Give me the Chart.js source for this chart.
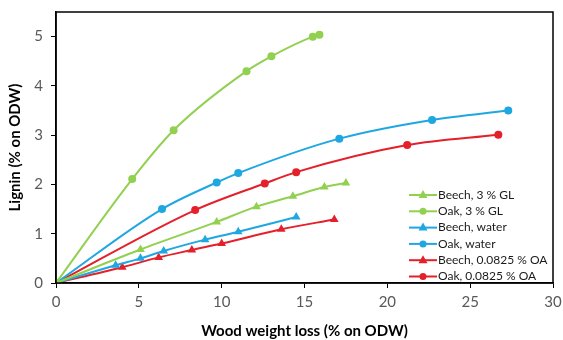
<!DOCTYPE html>
<html>
<head>
<meta charset="utf-8">
<script src="https://cdn.jsdelivr.net/npm/chart.js@4"></script>
<style>
  html, body { margin: 0; padding: 0; background: #fff; }
  #wrap { width: 563px; height: 340px; position: relative; }
</style>
</head>
<body>
<div id="wrap"><canvas id="chart"></canvas></div>
<script>
// values (x = wood weight loss, y = lignin, both % on ODW)
const beechGlX = [0, 5.1, 9.7, 12.1, 14.3, 16.2, 17.5];
const beechGlY = [0, 0.68, 1.24, 1.55, 1.76, 1.95, 2.03];
const oakGlX = [0, 4.6, 7.1, 11.5, 13.0, 15.5, 15.9];
const oakGlY = [0, 2.11, 3.10, 4.30, 4.60, 5.00, 5.04];
const beechWaterX = [0, 3.6, 5.1, 6.5, 9.0, 11.0, 14.5];
const beechWaterY = [0, 0.36, 0.50, 0.65, 0.88, 1.04, 1.34];
const oakWaterX = [0, 6.4, 9.7, 11.0, 17.1, 22.7, 27.3];
const oakWaterY = [0, 1.50, 2.04, 2.23, 2.93, 3.31, 3.50];
const beechOaX = [0, 4.0, 6.2, 8.2, 10.0, 13.6, 16.8];
const beechOaY = [0, 0.32, 0.52, 0.67, 0.80, 1.09, 1.29];
const oakOaX = [0, 8.4, 12.6, 14.5, 21.2, 26.7];
const oakOaY = [0, 1.48, 2.02, 2.25, 2.80, 3.01];

const xTicks = [0, 5, 10, 15, 20, 25, 30];
const yTicks = [0, 1, 2, 3, 4, 5];

const GREEN = '#92d050';
const BLUE = '#1ea7e1';
const RED = '#e4202a';

function pts(xs, ys) {
  return xs.map((x, i) => ({ x, y: ys[i] }));
}

function series(label, xs, ys, color, shape) {
  return {
    label,
    data: pts(xs, ys),
    borderColor: color,
    backgroundColor: color,
    borderWidth: 2,
    pointStyle: shape,
    pointRadius: shape === 'triangle' ? 5 : 4,
    pointBorderWidth: 0,
    showLine: true,
    tension: 0.4,
    cubicInterpolationMode: 'monotone'
  };
}

const datasets = [
  series('Beech, 3 % GL', beechGlX, beechGlY, GREEN, 'triangle'),
  series('Oak, 3 % GL', oakGlX, oakGlY, GREEN, 'circle'),
  series('Beech, water', beechWaterX, beechWaterY, BLUE, 'triangle'),
  series('Oak, water', oakWaterX, oakWaterY, BLUE, 'circle'),
  series('Beech, 0.0825 % OA', beechOaX, beechOaY, RED, 'triangle'),
  series('Oak, 0.0825 % OA', oakOaX, oakOaY, RED, 'circle')
];

// frame round the plot area plus a legend inside it, lower right
const framePlugin = {
  id: 'frame',
  afterDatasetsDraw(chart) {
    const { ctx, chartArea: a } = chart;
    ctx.save();
    ctx.strokeStyle = '#000';
    ctx.lineWidth = 1.5;
    ctx.strokeRect(a.left, a.top, a.right - a.left, a.bottom - a.top);

    const x0 = 409, x1 = 437, rowH = 16.3;
    let y = 195;
    ctx.font = '12px Lato, sans-serif';
    ctx.textBaseline = 'middle';
    chart.data.datasets.forEach(ds => {
      ctx.strokeStyle = ds.borderColor;
      ctx.fillStyle = ds.borderColor;
      ctx.lineWidth = 2;
      ctx.beginPath();
      ctx.moveTo(x0, y);
      ctx.lineTo(x1, y);
      ctx.stroke();
      const cx = (x0 + x1) / 2;
      ctx.beginPath();
      if (ds.pointStyle === 'triangle') {
        ctx.moveTo(cx, y - 5);
        ctx.lineTo(cx + 4.5, y + 3);
        ctx.lineTo(cx - 4.5, y + 3);
        ctx.closePath();
      } else {
        ctx.arc(cx, y, 3.5, 0, Math.PI * 2);
      }
      ctx.fill();
      ctx.fillStyle = '#1a1a1a';
      ctx.fillText(ds.label, x1 + 1, y);
      y += rowH;
    });
    ctx.restore();
  }
};

new Chart(document.getElementById('chart'), {
  type: 'scatter',
  data: { datasets },
  plugins: [framePlugin],
  options: {
    responsive: true,
    maintainAspectRatio: false,
    animation: false,
    layout: { padding: { left: 6, right: 10, top: 12, bottom: 0 } },
    plugins: {
      legend: { display: false },
      tooltip: { enabled: false }
    },
    scales: {
      x: {
        type: 'linear',
        min: 0,
        max: 30,
        afterBuildTicks: s => { s.ticks = xTicks.map(v => ({ value: v })); },
        afterFit: s => { s.height = 57; s.paddingRight = 0; s.paddingLeft = 0; },
        grid: { drawOnChartArea: false, drawTicks: true, tickLength: 5, color: '#000' },
        border: { color: '#000', width: 1.5 },
        ticks: { color: '#595959', font: { family: 'Lato', size: 15 }, padding: 5 },
        title: {
          display: true,
          text: 'Wood weight loss (% on ODW)',
          color: '#000',
          font: { family: 'Lato', size: 15, weight: 'bold' },
          padding: { top: 9, bottom: 0 }
        }
      },
      y: {
        min: 0,
        max: 5.5,
        afterBuildTicks: s => { s.ticks = yTicks.map(v => ({ value: v })); },
        afterFit: s => { s.width = 50; s.paddingTop = 0; s.paddingBottom = 0; },
        grid: { drawOnChartArea: false, drawTicks: true, tickLength: 5, color: '#000' },
        border: { color: '#000', width: 1.5 },
        ticks: { color: '#595959', font: { family: 'Lato', size: 15 }, padding: 8 },
        title: {
          display: true,
          text: 'Lignin (% on ODW)',
          color: '#000',
          font: { family: 'Lato', size: 15, weight: 'bold' },
          padding: { top: 0, bottom: 4 }
        }
      }
    }
  }
});
</script>
</body>
</html>
